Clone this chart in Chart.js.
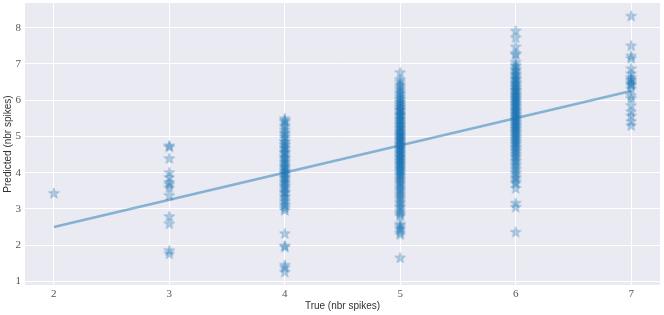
<!DOCTYPE html>
<html>
<head>
<meta charset="utf-8">
<script src="https://cdn.jsdelivr.net/npm/chart.js@4"></script>
<style>
  html, body { margin: 0; padding: 0; background: #fff; }
  #wrap { width: 664px; height: 315px; }
</style>
</head>
<body>
<div id="wrap"><canvas id="predChart"></canvas></div>
<script>
// ===== data =====
const trueVals = [2, 3, 4, 5, 6, 7];
const xTicks = [2, 3, 4, 5, 6, 7];
const yTicks = [1, 2, 3, 4, 5, 6, 7, 8];

// predicted values
const pred2 = [3.44];
const pred3 = [4.75, 4.72, 4.40, 4.01, 3.88, 3.74, 3.68, 3.59, 3.38, 2.80, 2.60, 1.86, 1.77];
const pred4 = [5.50, 5.45, 5.41, 5.32, 5.27, 5.19, 5.11, 5.08, 5.01, 4.96, 4.88, 4.85, 4.79,
  4.76, 4.70, 4.68, 4.61, 4.57, 4.55, 4.49, 4.43, 4.41, 4.36, 4.31, 4.28, 4.22, 4.19, 4.15,
  4.12, 4.07, 4.04, 3.99, 3.97, 3.91, 3.87, 3.85, 3.79, 3.75, 3.71, 3.66, 3.62, 3.58, 3.51,
  3.47, 3.44, 3.37, 3.33, 3.26, 3.21, 3.14, 3.09, 3.03, 2.97, 2.33, 1.99, 1.96, 1.46, 1.39, 1.27];
const pred5 = [6.77, 6.58, 6.52, 6.44, 6.39, 6.33, 6.27, 6.21, 6.18, 6.12, 6.07, 6.03, 5.98,
  5.95, 5.91, 5.88, 5.84, 5.81, 5.77, 5.74, 5.73, 5.68, 5.64, 5.61, 5.60, 5.57, 5.52, 5.49,
  5.47, 5.43, 5.40, 5.36, 5.34, 5.31, 5.27, 5.25, 5.22, 5.19, 5.15, 5.13, 5.10, 5.07, 5.04,
  5.03, 4.99, 4.97, 4.94, 4.91, 4.89, 4.86, 4.83, 4.80, 4.78, 4.76, 4.72, 4.70, 4.67, 4.65,
  4.61, 4.58, 4.56, 4.53, 4.50, 4.47, 4.44, 4.42, 4.39, 4.35, 4.33, 4.30, 4.26, 4.24, 4.21,
  4.17, 4.14, 4.11, 4.08, 4.04, 4.01, 3.97, 3.94, 3.90, 3.85, 3.82, 3.77, 3.73, 3.69, 3.63,
  3.58, 3.54, 3.49, 3.43, 3.38, 3.33, 3.28, 3.21, 3.16, 3.09, 3.05, 2.98, 2.91, 2.86, 2.81,
  2.59, 2.55, 2.49, 2.44, 2.36, 2.30, 1.66];
const pred6 = [7.92, 7.73, 7.48, 7.30, 7.26, 7.06, 6.98, 6.94, 6.87, 6.84, 6.79, 6.73, 6.71,
  6.66, 6.61, 6.59, 6.55, 6.50, 6.48, 6.44, 6.41, 6.37, 6.35, 6.30, 6.28, 6.26, 6.21, 6.19,
  6.15, 6.13, 6.09, 6.07, 6.04, 6.00, 5.98, 5.94, 5.92, 5.88, 5.86, 5.83, 5.79, 5.77, 5.73,
  5.71, 5.68, 5.64, 5.62, 5.58, 5.56, 5.53, 5.49, 5.47, 5.44, 5.40, 5.38, 5.34, 5.32, 5.29,
  5.25, 5.23, 5.20, 5.16, 5.14, 5.10, 5.08, 5.03, 5.01, 4.96, 4.94, 4.89, 4.87, 4.82, 4.80,
  4.75, 4.71, 4.68, 4.63, 4.60, 4.55, 4.51, 4.46, 4.42, 4.36, 4.32, 4.26, 4.21, 4.14, 4.09,
  4.02, 3.97, 3.89, 3.84, 3.76, 3.71, 3.58, 3.17, 3.06, 2.37];
const pred7 = [8.33, 7.51, 7.23, 7.16, 6.88, 6.74, 6.64, 6.58, 6.55, 6.49, 6.45, 6.41, 6.32,
  6.13, 6.06, 5.86, 5.69, 5.58, 5.42, 5.31];
const predByTrue = [pred2, pred3, pred4, pred5, pred6, pred7];

// fitted line end points
const fitX = [2, 7];
const fitY = [2.5, 6.25];

// ===== marker: filled 5-point star =====
function makeStar(size, color) {
  const c = document.createElement('canvas');
  c.width = size; c.height = size;
  const g = c.getContext('2d');
  const cx = size / 2, cy = size / 2 + 0.6;
  const ro = size / 2 - 0.3, ri = ro * 0.4;
  g.beginPath();
  for (let i = 0; i < 10; i++) {
    const r = i % 2 ? ri : ro;
    const a = -Math.PI / 2 + i * Math.PI / 5;
    const px = cx + r * Math.cos(a), py = cy + r * Math.sin(a);
    if (i === 0) g.moveTo(px, py); else g.lineTo(px, py);
  }
  g.closePath();
  g.fillStyle = color;
  g.fill();
  g.lineWidth = 0.8;
  g.strokeStyle = color;
  g.stroke();
  return c;
}
const starImg = makeStar(12, 'rgba(31,119,180,0.32)');

const scatterPts = [];
trueVals.forEach((t, i) => predByTrue[i].forEach(p => scatterPts.push({ x: t, y: p })));

const bgPlugin = {
  id: 'bg',
  beforeDraw(chart) {
    const a = chart.chartArea, ctx = chart.ctx;
    ctx.save();
    ctx.fillStyle = '#EAEAF2';
    ctx.fillRect(a.left, a.top, a.right - a.left, a.bottom - a.top);
    ctx.restore();
  }
};

new Chart(document.getElementById('predChart'), {
  type: 'scatter',
  data: {
    datasets: [
      {
        type: 'line',
        data: fitX.map((x, i) => ({ x: x, y: fitY[i] })),
        borderColor: 'rgba(31,119,180,0.5)',
        borderWidth: 2.5,
        pointRadius: 0,
        fill: false,
        order: 0
      },
      {
        data: scatterPts,
        pointStyle: starImg,
        pointRadius: 6,
        order: 1
      }
    ]
  },
  plugins: [bgPlugin],
  options: {
    responsive: true,
    maintainAspectRatio: false,
    animation: false,
    events: [],
    layout: { autoPadding: false, padding: { top: 3, right: 4, left: 0, bottom: 0 } },
    plugins: { legend: { display: false }, tooltip: { enabled: false } },
    scales: {
      x: {
        type: 'linear',
        min: 1.75, max: 7.25,
        afterBuildTicks: s => { s.ticks = xTicks.map(v => ({ value: v })); },
        afterFit: s => { s.height = 30; s.paddingLeft = 0; s.paddingRight = 0; },
        grid: { color: '#ffffff', lineWidth: 1, drawTicks: false },
        border: { display: false },
        ticks: { padding: 3, color: '#555', font: { family: 'Liberation Serif', size: 11 } },
        title: { display: true, text: 'True (nbr spikes)', color: '#333', padding: { top: 0, bottom: 3 },
          font: { family: 'Liberation Sans', size: 10 } }
      },
      y: {
        type: 'linear',
        min: 0.9, max: 8.68,
        afterBuildTicks: s => { s.ticks = yTicks.map(v => ({ value: v })); },
        afterFit: s => { s.width = 25; s.paddingTop = 0; s.paddingBottom = 0; },
        grid: { color: '#ffffff', lineWidth: 1, drawTicks: false },
        border: { display: false },
        ticks: { padding: 4, color: '#555', font: { family: 'Liberation Serif', size: 11 } },
        title: { display: true, text: 'Predicted (nbr spikes)', color: '#333', padding: { top: 2, bottom: 0 },
          font: { family: 'Liberation Sans', size: 10 } }
      }
    }
  }
});
</script>
</body>
</html>
